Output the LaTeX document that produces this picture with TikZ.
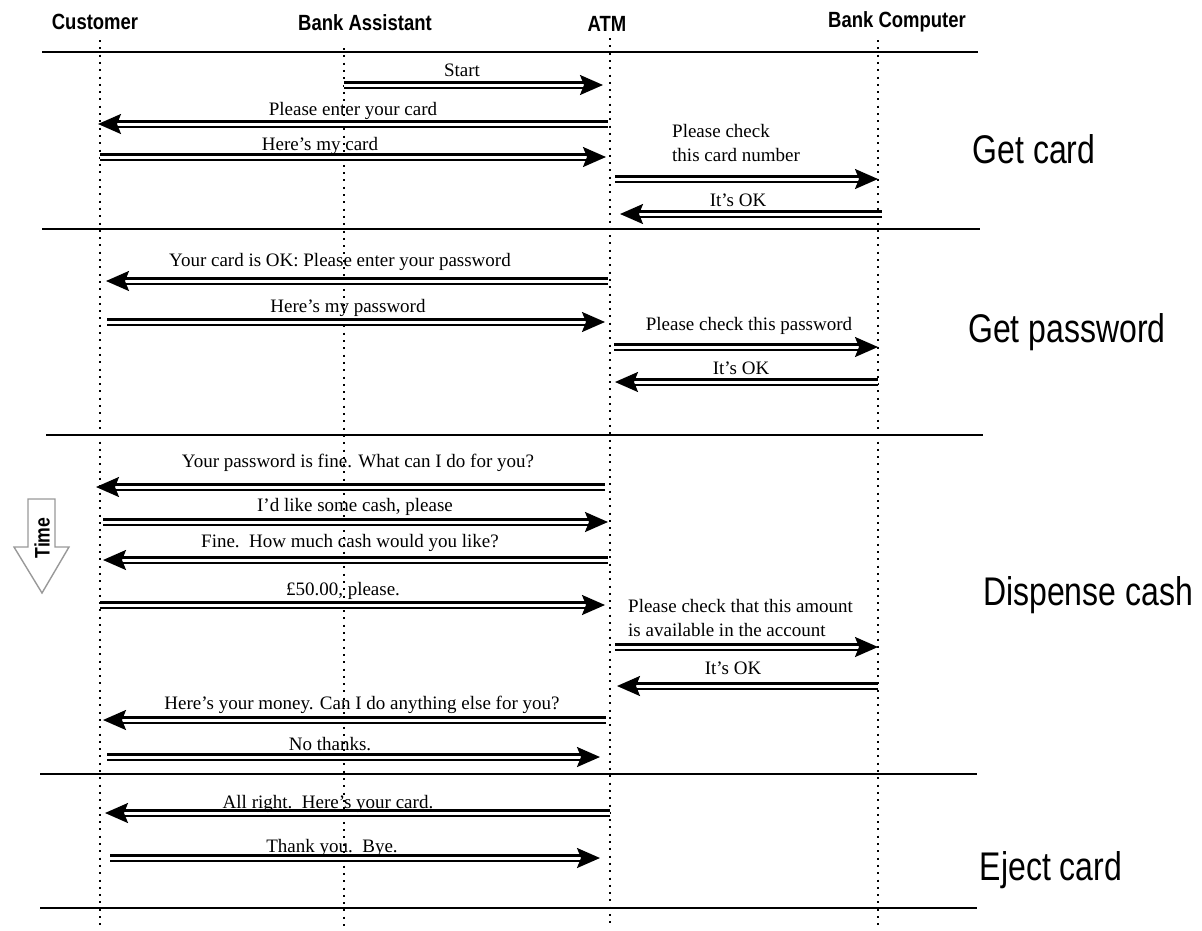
\documentclass[tikz,border=0pt]{standalone}
\usepackage{fontspec}
\setmainfont{Liberation Serif}
\newfontfamily\headfont[FakeStretch=0.84]{Liberation Sans}
\newfontfamily\phasefont[FakeStretch=0.8]{Liberation Sans}
\usetikzlibrary{arrows.meta}
\begin{document}
\begin{tikzpicture}[x=1pt,y=-1pt,
  lifeline/.style={line width=2pt, dash pattern=on 2pt off 5.3pt},
  separator/.style={line width=1.8pt},
  msg/.style={double, double distance=3pt, line width=2.1pt,
    -{Stealth[length=23pt,width=20pt,inset=4pt]}},
  msglabel/.style={font=\fontsize{19}{24}\selectfont, anchor=base, inner sep=0pt},
  msgblock/.style={font=\fontsize{19}{24}\selectfont, anchor=north west,
    inner sep=0pt, align=left},
  header/.style={font=\headfont\bfseries\fontsize{22}{25}\selectfont,
    anchor=base, inner sep=0pt},
  phase/.style={font=\phasefont\fontsize{40}{44}\selectfont, anchor=base, inner sep=0pt},
  timearrow/.style={draw=black!40, line width=1.4pt, fill=white, line join=miter}
]
\useasboundingbox (0,0) rectangle (1202,930);

% participants
\node[header] (hcust) at (95,29) {Customer};
\node[header] (hassist) at (365,30) {Bank Assistant};
\node[header] (hatm) at (607,31) {ATM};
\node[header] (hbank) at (897,27) {Bank Computer};

% lifelines
\coordinate (custT) at (100,40);   \coordinate (custB) at (100,926);
\coordinate (assistT) at (344,48); \coordinate (assistB) at (344,926);
\coordinate (atmT) at (610,38);    \coordinate (atmB) at (610,926);
\coordinate (bankT) at (878,40);   \coordinate (bankB) at (878,926);
\draw[lifeline] (custT) -- (custB);
\draw[lifeline] (assistT) -- (assistB);
\draw[lifeline] (atmT) -- (atmB);
\draw[lifeline] (bankT) -- (bankB);

% phase separators
\foreach \i/\y/\l/\r in {1/52/42/978, 2/229/42/980, 3/435/46/983, 4/774/40/977, 5/908/40/977}{
  \coordinate (sep\i L) at (\l,\y);
  \coordinate (sep\i R) at (\r,\y);
  \draw[separator] (sep\i L) -- (sep\i R);
}

% messages: number / arrow y / from x / to x / label x / label baseline / text
\foreach \n/\y/\a/\b/\lx/\ly/\t in {
  1/85/344/603/462/76/Start,
  2/124/608/98/353/115/Please enter your card,
  3/157/100/606/320/150/Here’s my card,
  5/214/882/620/738/206/It’s OK,
  6/281/608/106/340/266/Your card is OK: Please enter your password,
  7/322/107/605/348/312/Here’s my password,
  8/347/614/878/749/330/Please check this password,
  9/382/878/615/741/374/It’s OK,
  10/487/605/96/358/467/Your password is fine. What can I do for you?,
  11/522/103/608/355/511/{I’d like some cash, please},
  12/560/608/103/350/547/Fine.\ \ How much cash would you like?,
  13/605/100/605/343/595/{£50.00, please.},
  15/686/878/617/733/674/It’s OK,
  16/720/606/103/362/709/Here’s your money. Can I do anything else for you?,
  17/757/107/600/330/750/No thanks.,
  18/813/610/105/328/808/All right.\ \ Here’s your card.,
  19/858/110/600/332/852/Thank you.\ \ Bye.}{
  \coordinate (m\n a) at (\a,\y);
  \coordinate (m\n b) at (\b,\y);
  \draw[msg] (m\n a) -- (m\n b);
  \node[msglabel] (l\n) at (\lx,\ly) {\t};
}

% two-line requests to the bank computer
\coordinate (m4a) at (615,179); \coordinate (m4b) at (878,179);
\draw[msg] (m4a) -- (m4b);
\node[msgblock] (l4) at (672,124) {Please check\\this card number};
\coordinate (m14a) at (615,647); \coordinate (m14b) at (878,647);
\draw[msg] (m14a) -- (m14b);
\node[msgblock] (l14) at (628,599) {Please check that this amount\\is available in the account};

% phase names
\node[phase] (pcard) at (1034,163) {Get card};
\node[phase] (ppass) at (1067,342) {Get password};
\node[phase] (pcash) at (1088,605) {Dispense cash};
\node[phase] (peject) at (1051,880) {Eject card};

% time direction
\draw[timearrow] (28,499) -- (55,499) -- (55,547) -- (69,547) -- (42,593)
  -- (14,547) -- (28,547) -- cycle;
\node[font=\headfont\bfseries\fontsize{21}{24}\selectfont, rotate=90, inner sep=0pt]
  (time) at (42,538) {Time};
\end{tikzpicture}
\end{document}
